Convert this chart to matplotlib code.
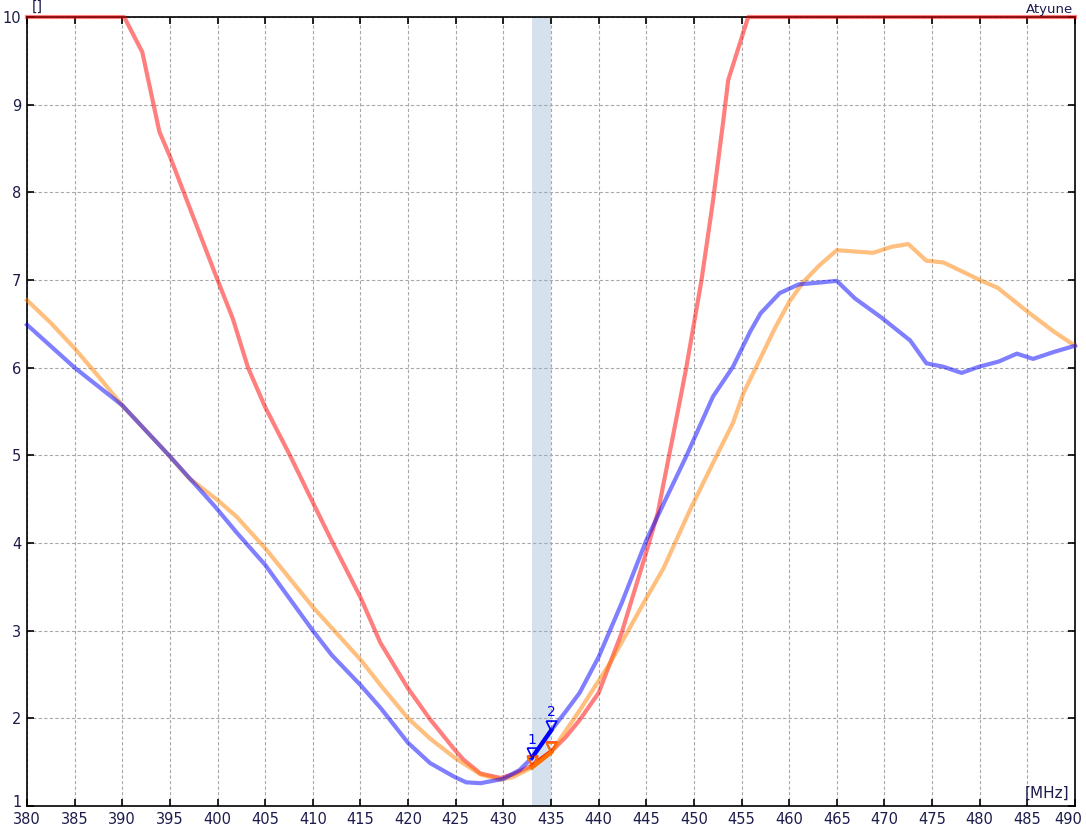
import numpy as np
import matplotlib
matplotlib.use("Agg")
import matplotlib.pyplot as plt
from matplotlib.transforms import ScaledTranslation

# ---- data ----
red_x = [380, 390.2, 392.1, 393.9, 395.0, 400.0, 401.6, 403.2, 405.0, 407.6, 409.7, 412.0,
         415.0, 417.1, 420.0, 422.3, 424.9, 425.8, 427.6, 429.7, 431.0, 433.0, 435.0, 436.5,
         438.0, 440.0, 442.4, 444.9, 446.2, 447.4, 448.4, 449.2, 450.0, 450.8, 452.0, 453.1,
         453.6, 455.7, 490]
red_y = [10, 10, 9.60, 8.69, 8.41, 7.0, 6.56, 6.0, 5.55, 5.0, 4.53, 4.02,
         3.38, 2.86, 2.34, 1.99, 1.64, 1.53, 1.37, 1.32, 1.36, 1.46, 1.62, 1.78,
         1.98, 2.29, 2.97, 3.86, 4.34, 5.0, 5.55, 6.0, 6.5, 7.0, 7.9, 8.83,
         9.28, 10, 10]

blue_x = [380, 385, 390, 394.9, 399.7, 402, 405, 410, 412, 415, 417.1, 420, 422.3, 424.9,
          426.1, 427.6, 430, 431.7, 433, 435, 436.7, 438, 440, 442.4, 445, 447, 449.2,
          452, 454.1, 455.9, 457, 459, 461, 463.1, 465, 466.9, 469.7, 472.7, 474.4,
          476.2, 478.1, 479.9, 482, 483.9, 485.6, 487.8, 490]
blue_y = [6.49, 6.0, 5.57, 5.0, 4.42, 4.12, 3.75, 3.0, 2.72, 2.38, 2.12, 1.72, 1.49, 1.33,
          1.27, 1.26, 1.31, 1.41, 1.55, 1.86, 2.1, 2.29, 2.70, 3.31, 4.03, 4.49, 4.99,
          5.67, 6.01, 6.41, 6.62, 6.85, 6.95, 6.97, 6.99, 6.79, 6.57, 6.31, 6.05,
          6.01, 5.94, 6.01, 6.07, 6.16, 6.10, 6.18, 6.25]

orange_x = [380, 382.5, 385, 387.5, 390, 394.9, 397, 400, 402, 405, 410, 415, 417.1, 420,
            422.3, 424.9, 427.6, 429.7, 431, 433, 435, 438, 441.2, 444.9, 446.8, 449.6,
            452.4, 454.1, 455.2, 456.9, 458.5, 460, 461.5, 463.2, 465, 468.8, 470.8,
            472.5, 474.4, 476.2, 478.3, 480, 481.9, 485, 487.8, 490]
orange_y = [6.77, 6.51, 6.22, 5.9, 5.57, 5.0, 4.74, 4.49, 4.30, 3.94, 3.27, 2.67, 2.38, 2.0,
            1.77, 1.55, 1.36, 1.30, 1.33, 1.44, 1.61, 2.09, 2.63, 3.35, 3.71, 4.38,
            5.0, 5.37, 5.71, 6.09, 6.45, 6.75, 6.98, 7.17, 7.34, 7.31, 7.38,
            7.41, 7.22, 7.2, 7.09, 7.0, 6.91, 6.64, 6.41, 6.25]

marker_freqs = [433, 435]
marker_labels = ["1", "2"]
band = (433, 435)
x_ticks = list(range(380, 491, 5))
y_ticks = list(range(1, 11))

# ---- figure ----
fig = plt.figure(figsize=(10.86, 8.31), dpi=100)
ax = fig.add_axes([27 / 1086, 1 - 806 / 831, (1075 - 27) / 1086, (806 - 17) / 831])

ax.set_xlim(380, 490)
ax.set_ylim(1, 10)
ax.axvspan(*band, color="#d5e1ec", zorder=0, lw=0)

ax.set_xticks(x_ticks)
ax.set_yticks(y_ticks)
ax.grid(True, color="#a8a8a8", linestyle=(0, (3, 2)), linewidth=0.8, zorder=1)
ax.set_axisbelow(True)
ax.tick_params(direction="in", length=5, width=1.2, top=True, right=True,
               labelsize=10.5, labelcolor="#1c1c4c", pad=4)
for s in ax.spines.values():
    s.set_color("black")
    s.set_linewidth(1.2)

# keep edge tick labels inside the figure, as in the reference
last_x = ax.xaxis.get_major_ticks()[-1].label1
last_x.set_transform(last_x.get_transform() + ScaledTranslation(-7 / 100, 0, fig.dpi_scale_trans))
first_y = ax.yaxis.get_major_ticks()[0].label1
first_y.set_transform(first_y.get_transform() + ScaledTranslation(0, 5 / 100, fig.dpi_scale_trans))

series = [
    (red_x, red_y, "#ff0000", "#ff2200"),
    (orange_x, orange_y, "#ff8000", "#ff7000"),
    (blue_x, blue_y, "#0000ff", "#0000ff"),
]
for xs, ys, c, dc in series:
    ax.plot(xs, ys, color=c, alpha=0.5, lw=3.0, zorder=3, solid_joinstyle="round",
            clip_on=False)

# highlighted segments within band and markers
tri = [(-0.5, 1.0), (0.5, 1.0), (0.0, 0.0), (-0.5, 1.0)]
for xs, ys, c, dc in series:
    xs_a = np.array(xs, dtype=float)
    ys_a = np.array(ys, dtype=float)
    inner = (xs_a > band[0]) & (xs_a < band[1])
    seg_x = np.concatenate([[band[0]], xs_a[inner], [band[1]]])
    seg_y = np.interp(seg_x, xs_a, ys_a)
    ax.plot(seg_x, seg_y, color=dc, lw=3.0, zorder=4)
    my = np.interp(marker_freqs, xs_a, ys_a)
    ax.plot(marker_freqs, my, linestyle="none", marker=tri, markersize=15,
            markerfacecolor="none", markeredgecolor=dc, markeredgewidth=1.2, zorder=5)

by = np.interp(marker_freqs, blue_x, blue_y)
for f, yv, lab in zip(marker_freqs, by, marker_labels):
    ax.annotate(lab, (f, yv), xytext=(0, 8), textcoords="offset points",
                ha="center", va="bottom", color="#0000ff", fontsize=10)

fig.text(32 / 1086, 1 - 7 / 831, "[]", ha="left", va="center", fontsize=10, color="#1c1c4c")
fig.text(1073 / 1086, 1 - 9 / 831, "Atyune", ha="right", va="center", fontsize=9.5,
         color="#1c1c4c")
ax.text(0.995, 0.006, "[MHz]", transform=ax.transAxes, ha="right", va="bottom",
        fontsize=11, color="#1c1c4c")

fig.savefig("out.png", dpi=100)
